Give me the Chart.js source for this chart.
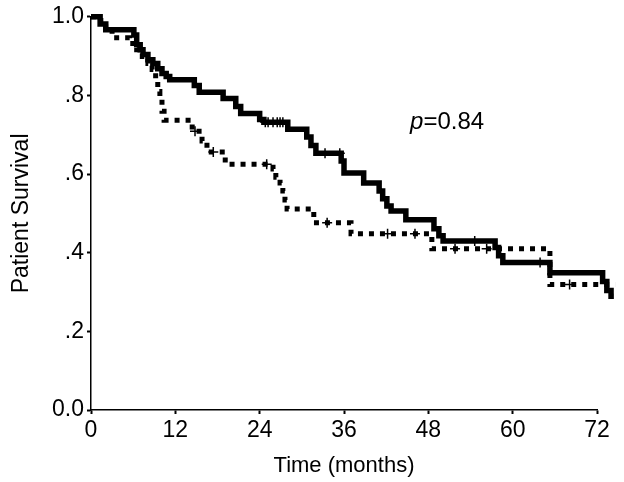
<!DOCTYPE html>
<html>
<head>
<meta charset="utf-8">
<script src="https://cdn.jsdelivr.net/npm/chart.js@4"></script>
<style>
  html, body { margin: 0; padding: 0; background: #fff; }
  #wrap { width: 624px; height: 482px; }
</style>
</head>
<body>
<div id="wrap"><canvas id="survChart" width="624" height="482"></canvas></div>
<script>
// solid group: step times (months) and survival after each step
var solidT = [0, 1.3, 2.1, 6.1, 6.5, 7.0, 7.4, 8.1, 8.8, 9.5, 10.1, 10.7, 11.2, 14.7, 15.4, 18.8, 20.6, 21.3, 24.0, 24.6, 28.0, 30.7, 31.3, 32.0, 35.6, 36.0, 38.8, 41.0, 41.5, 42.1, 42.7, 44.8, 48.8, 49.5, 50.1, 57.5, 58.0, 58.6, 65.3, 72.8, 73.4, 74.0, 74.4];
var solidS = [1.0, 0.982, 0.967, 0.954, 0.929, 0.916, 0.904, 0.891, 0.881, 0.868, 0.856, 0.848, 0.84, 0.825, 0.808, 0.792, 0.772, 0.754, 0.739, 0.732, 0.714, 0.694, 0.673, 0.653, 0.633, 0.603, 0.577, 0.557, 0.537, 0.519, 0.506, 0.484, 0.461, 0.443, 0.43, 0.413, 0.392, 0.375, 0.349, 0.327, 0.304, 0.289, 0.289];
// dotted group
var dotT = [0, 1.4, 3.0, 5.5, 6.5, 7.3, 8.1, 8.7, 9.2, 9.5, 9.8, 10.1, 10.4, 14.4, 15.8, 16.5, 19.1, 25.9, 26.3, 26.9, 27.3, 27.6, 27.9, 31.7, 37.0, 48.5, 65.3, 74.6];
var dotS = [1.0, 0.975, 0.947, 0.932, 0.916, 0.899, 0.881, 0.866, 0.835, 0.81, 0.79, 0.76, 0.737, 0.709, 0.684, 0.656, 0.625, 0.613, 0.592, 0.577, 0.557, 0.534, 0.511, 0.476, 0.448, 0.41, 0.319, 0.319];
// censored marks
var solidCensT = [24.8, 25.2, 25.9, 26.5, 26.9, 27.3, 33.3, 35.4, 54.6, 63.9];
var solidCensS = [0.732, 0.732, 0.732, 0.732, 0.732, 0.732, 0.653, 0.653, 0.43, 0.375];
var dotCensT = [14.8, 17.4, 25.0, 33.6, 42.2, 46.1, 51.8, 56.3, 68.1];
var dotCensS = [0.709, 0.656, 0.625, 0.476, 0.448, 0.448, 0.41, 0.41, 0.319];

var xTicks = [0, 12, 24, 36, 48, 60, 72];
var yTicks = [0, 0.2, 0.4, 0.6, 0.8, 1.0];
var yTickLabels = ['0.0', '.2', '.4', '.6', '.8', '1.0'];
var pText = 'p';
var pValue = '=0.84';

function pts(xs, ys) {
    var out = [];
    for (var i = 0; i < xs.length; i++) {
        out.push({x: xs[i], y: ys[i]});
    }
    return out;
}

var tickFont = {family: "'Liberation Sans', Arial, sans-serif", size: 23};
var titleFont = {family: "'Liberation Sans', Arial, sans-serif", size: 22};

// p-value label
var pLabel = {
    id: 'pLabel',
    afterDraw: function(chart) {
        var ctx = chart.ctx;
        var x = chart.scales.x.getPixelForValue(45.4);
        var y = chart.scales.y.getPixelForValue(0.714);
        ctx.save();
        ctx.fillStyle = '#000';
        ctx.textBaseline = 'alphabetic';
        ctx.font = "italic 24px 'Liberation Sans', Arial, sans-serif";
        ctx.fillText(pText, x, y);
        var w = ctx.measureText(pText).width;
        ctx.font = "24px 'Liberation Sans', Arial, sans-serif";
        ctx.fillText(pValue, x + w, y);
        ctx.restore();
    }
};

var ctx = document.getElementById('survChart').getContext('2d');
var myChart = new Chart(ctx, {
    type: 'line',
    data: {
        datasets: [{
            data: pts(solidT, solidS),
            borderColor: '#000',
            borderWidth: 5.5,
            stepped: 'before',
            pointRadius: 0,
            fill: false,
            clip: false
        }, {
            data: pts(dotT, dotS),
            borderColor: '#000',
            borderWidth: 5,
            borderDash: [5, 6],
            borderCapStyle: 'butt',
            stepped: 'before',
            pointRadius: 0,
            fill: false,
            clip: false
        }, {
            data: pts(solidCensT, solidCensS),
            showLine: false,
            pointStyle: 'cross',
            pointRadius: 5,
            pointBorderWidth: 1.5,
            pointBorderColor: '#000',
            clip: false
        }, {
            data: pts(dotCensT, dotCensS),
            showLine: false,
            pointStyle: 'cross',
            pointRadius: 5,
            pointBorderWidth: 1.5,
            pointBorderColor: '#000',
            clip: false
        }]
    },
    options: {
        responsive: false,
        animation: false,
        layout: {padding: {left: 0, right: 27, top: 15, bottom: 0}},
        plugins: {legend: {display: false}, tooltip: {enabled: false}},
        scales: {
            x: {
                type: 'linear',
                min: 0,
                bounds: 'data',
                afterDataLimits: function(s) { s.max = 72; },
                afterBuildTicks: function(s) {
                    s.max = 72;
                    s.ticks = xTicks.map(function(v) { return {value: v}; });
                },
                afterFit: function(s) { s.height = 72; },
                border: {color: '#000', width: 1.5},
                grid: {drawOnChartArea: false, tickLength: 4, tickColor: '#000', tickWidth: 2},
                ticks: {color: '#000', font: tickFont, padding: 3, maxRotation: 0},
                title: {display: true, text: 'Time (months)', color: '#000', font: titleFont, padding: {top: 0, bottom: 3}}
            },
            y: {
                min: 0,
                max: 1,
                afterBuildTicks: function(s) { s.ticks = yTicks.map(function(v) { return {value: v}; }); },
                afterFit: function(s) { s.width = 91; },
                border: {color: '#000', width: 1.5},
                grid: {drawOnChartArea: false, tickLength: 4, tickColor: '#000', tickWidth: 2},
                ticks: {
                    color: '#000', font: tickFont, padding: 3,
                    callback: function(v) { return yTickLabels[yTicks.indexOf(v)]; }
                },
                title: {display: true, text: 'Patient Survival', color: '#000',
                    font: {family: "'Liberation Sans', Arial, sans-serif", size: 23}, padding: {top: 8, bottom: 0}}
            }
        }
    },
    plugins: [pLabel]
});
</script>
</body>
</html>
